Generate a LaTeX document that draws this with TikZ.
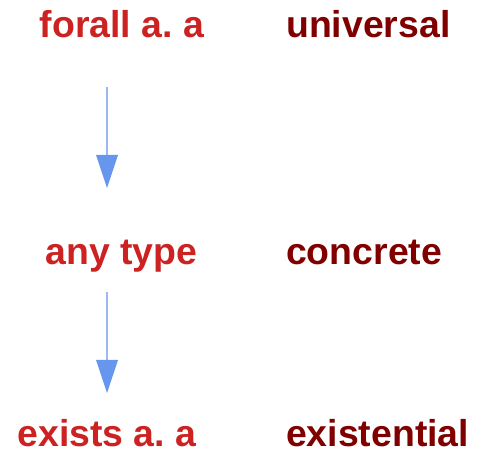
\documentclass[tikz,border=0pt]{standalone}
\usepackage{fontspec}
\setmainfont{Liberation Sans}
\usetikzlibrary{arrows.meta}
\definecolor{lred}{RGB}{204,34,34}
\definecolor{dred}{RGB}{128,0,0}
\definecolor{headblue}{RGB}{102,150,238}
\definecolor{lineblue}{RGB}{155,185,240}
\frenchspacing
\begin{document}
\begin{tikzpicture}[x=1pt,y=1pt,
  term/.style={inner sep=0pt,font=\fontsize{37.4}{40}\selectfont\bfseries\frenchspacing,text=lred,anchor=base},
  kind/.style={inner sep=0pt,font=\fontsize{37.4}{40}\selectfont\bfseries,text=dred,anchor=base west},
  arr/.style={draw=lineblue,line width=2pt,-{Triangle[width=22pt,length=33pt,line width=0pt,color=headblue,fill=headblue]}}]
\useasboundingbox (0,0) rectangle (482,450);
\node[term] (forall) at (122,412) {forall a. a};
\node[kind] (univ) at (286,412) {universal};
\node[term] (any) at (121.5,185) {any type};
\node[kind] (conc) at (286,185) {concrete};
\node[term] (exists) at (107,4) {exists a. a};
\node[kind] (exist) at (286,4) {existential};
\coordinate (s1) at (107,363);
\coordinate (e1) at (107,262);
\coordinate (s2) at (107,158);
\coordinate (e2) at (107,57);
\draw[arr] (s1) -- (e1);
\draw[arr] (s2) -- (e2);
\end{tikzpicture}
\end{document}
